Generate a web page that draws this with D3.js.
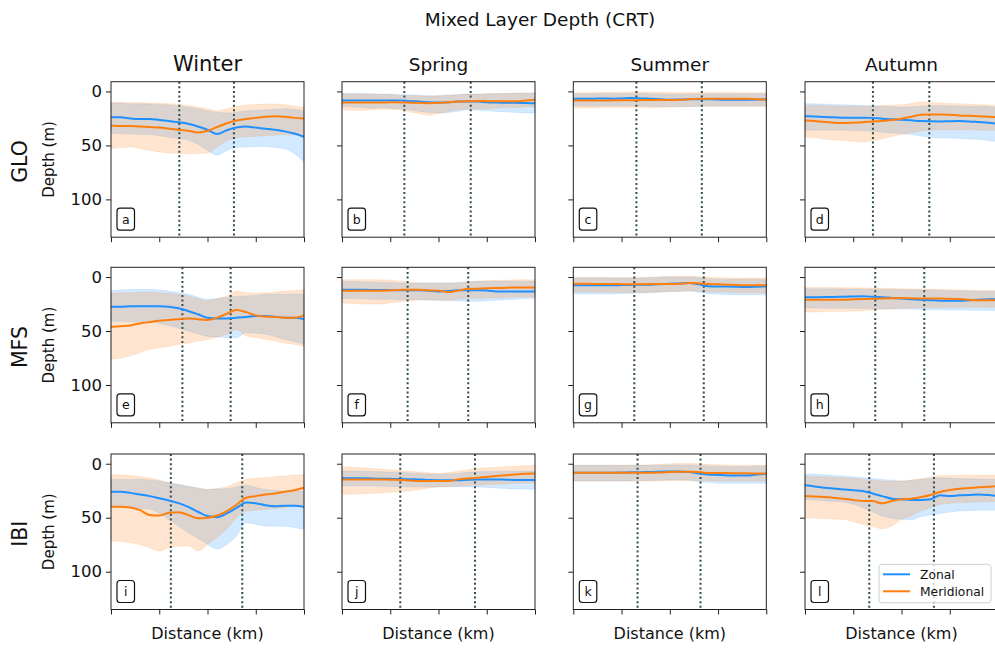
<!DOCTYPE html>
<html>
<head>
<meta charset="utf-8">
<script src="https://cdn.jsdelivr.net/npm/d3@7"></script>
<style>
  body { margin: 0; background: #fff; }
  text { font-family: "DejaVu Sans", sans-serif; fill: #111; }
</style>
</head>
<body>
<svg id="canvas" width="995" height="651"></svg>
<script>
// distance along section (percent of transect length)
const dist = [0, 5, 10, 15, 20, 25, 30, 35, 40, 45, 50, 55, 60, 65, 70, 75, 80, 85, 90, 95, 100];

const seasons = ["Winter", "Spring", "Summer", "Autumn"];
const models = ["GLO", "MFS", "IBI"];
const letters = ["a", "b", "c", "d", "e", "f", "g", "h", "i", "j", "k", "l"];
const yTicks = [0, 50, 100];
const xTicks = [0, 25, 50, 75, 100];

// front / boundary positions (dotted lines) per panel, same order as letters
const fronts = [
  [35.4, 63.7], [32.3, 66.7], [32.7, 66.6], [35.2, 64.4],
  [37.0, 62.0], [34.0, 65.4], [31.6, 67.6], [36.4, 61.8],
  [31.0, 68.0], [30.2, 68.9], [33.3, 65.9], [33.3, 66.8]
];

// ---- GLO ----
const aZonal = [24, 24, 25, 25.5, 25.5, 26.5, 27.5, 28.5, 30, 32.5, 35.5, 39.5, 36, 33.5, 32.5, 33.5, 34.5, 35.5, 37, 39, 42];
const aZonalTop = [11, 11, 11.5, 11.5, 11.7, 12, 12.5, 13.5, 14.7, 16, 17.8, 19.3, 20, 19.3, 18, 17.5, 17, 16.5, 16, 16.5, 18];
const aZonalBot = [39, 39, 39.5, 40, 40, 41, 42.5, 43.5, 45, 49, 54.6, 59, 54.6, 52, 51.5, 51, 51, 52, 53, 57.7, 65];
const aMerid = [31.5, 32, 32, 32.5, 33, 33.5, 34.5, 35.5, 36.5, 38, 36.5, 33, 29.5, 27, 25.5, 24.5, 23.5, 23, 23.5, 24.5, 25];
const aMeridTop = [10, 10, 10.5, 10.5, 10.7, 11, 11.5, 12, 13, 14.5, 16, 17.8, 16, 14, 12.6, 12, 11.7, 11.7, 12.3, 13.5, 14.7];
const aMeridBot = [53, 52, 51.5, 53, 54.6, 56, 57, 57.5, 57.7, 57.5, 57, 51.5, 45.4, 43, 42, 41.5, 41, 40.5, 40, 40.5, 41];

const bZonal = [8.4, 8.4, 8.4, 8.5, 8.4, 8.5, 8.4, 9, 9.4, 10, 10.3, 10, 9.4, 9.4, 9.4, 10, 10.3, 10.5, 10.6, 10.8, 10.9];
const bZonalTop = [1.6, 2, 2, 2.2, 2.5, 2.5, 3, 3, 3.5, 4, 4, 3.5, 3, 2.5, 2.5, 2.2, 2, 2, 1.8, 1.6, 1.6];
const bZonalBot = [14, 14.5, 15, 15.5, 15, 15.5, 16, 17, 18.5, 19.5, 20, 19.5, 18.5, 17, 17.5, 18, 18.5, 19, 19.5, 20, 20];
const bMerid = [10.3, 10.3, 10.3, 10.3, 10.3, 10, 10.2, 10.4, 10.5, 10.9, 10.6, 10, 9.4, 9, 8.8, 9, 9.2, 9.2, 9.2, 8.5, 7.8];
const bMeridTop = [2.5, 2.5, 2.5, 2.5, 2.8, 3, 3.5, 4, 4, 4.5, 4, 3.5, 3, 2.5, 2.5, 2.2, 2, 2, 1.5, 1.5, 1.2];
const bMeridBot = [17, 17.5, 17.5, 17, 16.5, 16.5, 17, 19, 20.5, 22, 20.5, 18.5, 17, 16.5, 16, 16, 15.5, 15, 15, 14.5, 14.5];

const cZonal = [6.8, 6.8, 6.8, 6.5, 6.8, 6.5, 6.2, 6.5, 6.8, 7.2, 7.7, 7.5, 7.3, 7.3, 7.3, 7.5, 7.8, 7.8, 7.8, 7.5, 7.3];
const cZonalTop = [2.2, 2.2, 2.2, 2, 2, 2, 2, 2, 2.2, 2.2, 2.5, 2.5, 2.5, 2.2, 2.2, 2.2, 2.2, 2.2, 2.2, 2.2, 2.2];
const cZonalBot = [13.6, 13.6, 13.6, 13.5, 13.5, 13.5, 13.5, 13.6, 13.8, 14, 14, 14, 14, 13.8, 13.6, 13.6, 13.6, 13.6, 13.6, 13.6, 13.6];
const cMerid = [8.3, 8.3, 8.3, 8.3, 8.3, 8.2, 8.2, 8, 8, 8, 8, 7.8, 7.3, 6.8, 6.8, 6.8, 6.8, 6.8, 6.8, 7.2, 7.5];
const cMeridTop = [1.2, 1.2, 1.2, 1, 1, 0.8, 0.5, 0.5, 0.5, 0.5, 0.8, 1, 1, 1, 1, 1, 1, 1.2, 1.2, 1.2, 1.2];
const cMeridBot = [15.4, 15.4, 15.4, 15.2, 15, 15, 15, 15, 15, 14.8, 14.5, 14.5, 14, 14, 13.8, 13.8, 13.8, 13.8, 13.8, 13.8, 13.8];

const dZonal = [23, 23.3, 23.7, 24, 24.4, 24.4, 24.4, 24.5, 25.3, 25.8, 26.2, 26.8, 27.5, 27.7, 27.8, 27.6, 27.5, 27.8, 28.4, 29, 29.9];
const dZonalTop = [11.4, 11.5, 11.8, 12, 12.3, 12.6, 13, 13.3, 13.8, 14.2, 14.5, 14.2, 13.8, 13.3, 13, 13.3, 13.5, 13.8, 13.8, 14, 14.5];
const dZonalBot = [36, 36, 36, 36, 36, 36.2, 36.5, 37, 37.8, 38.5, 39, 40, 41.2, 42.6, 43, 43.2, 43.5, 44, 44.4, 45.5, 46.6];
const dMerid = [26.9, 27.5, 28.4, 29, 29.3, 29, 28.5, 27.8, 27.5, 26.5, 25.3, 23.5, 21.6, 21.3, 21.3, 21.6, 22.2, 22.6, 23, 23.4, 23.8];
const dMeridTop = [13, 13, 13.2, 13.4, 13.6, 13.8, 13.9, 13.5, 13, 12.6, 12.3, 11.2, 9.9, 10.2, 10.8, 11.1, 11.4, 11.8, 12.2, 12.6, 13];
const dMeridBot = [42.3, 43, 44, 44.8, 45.4, 46.2, 46.9, 45.5, 43.8, 41.8, 39.8, 38.2, 36.7, 36, 35.5, 35.5, 35.5, 35.6, 35.8, 36, 36];

// ---- MFS ----
const eZonal = [27.5, 27.5, 27, 27, 27, 27, 27.5, 29, 31.5, 34.5, 37.7, 38.3, 38.3, 37.7, 37, 36, 36, 36.7, 37.7, 37.7, 39];
const eZonalTop = [13, 12, 11.5, 11.4, 11.4, 12, 13, 14.5, 16, 18.5, 20.7, 20, 19, 18, 17.6, 17, 16, 16, 16, 16, 16];
const eZonalBot = [40.7, 41, 41.5, 42, 42, 43, 45, 47.5, 50, 52.5, 55, 55.5, 56, 56, 51.5, 52, 53, 55, 57.7, 60, 62];
const eMerid = [46, 45.5, 44.8, 43, 41.7, 40.5, 39.8, 39, 38.3, 39, 39.8, 37.7, 34, 30.5, 32.5, 35.5, 36.7, 37, 37.7, 37.7, 35.5];
const eMeridTop = [15, 14.5, 14.5, 14, 14, 14.5, 15, 16, 17.6, 20, 22, 20, 17.6, 13, 14.5, 15, 14.5, 14, 13, 12.5, 12];
const eMeridBot = [76, 75, 73, 70, 67, 65.5, 64, 62.5, 61, 59.5, 58, 55.5, 53, 48.5, 54.6, 56, 57.7, 59, 61, 62.5, 64];

const fZonal = [11.7, 11.7, 11.8, 12, 12, 12.2, 12.3, 12.3, 12.3, 12.8, 13.3, 13, 12.3, 12.3, 12.3, 12.5, 13.3, 13.3, 13.3, 13.3, 13.3];
const fZonalTop = [4, 4, 4.5, 4.5, 5, 5, 5.5, 5.5, 5.5, 5.5, 5.5, 5.5, 5, 4.5, 4, 4, 4, 4, 4, 4, 4];
const fZonalBot = [20, 20, 20, 20.5, 20.5, 20.5, 21, 21, 21, 21.5, 21.5, 22, 22, 22.5, 22.5, 22, 21.5, 21, 20.5, 20, 20];
const fMerid = [12.6, 12.6, 12.8, 12.6, 12.6, 12.3, 12, 11.7, 11.7, 12.5, 12.6, 13.9, 12.6, 11.1, 10.8, 10.5, 10.2, 10, 9.6, 9.6, 9.6];
const fMeridTop = [2.5, 2.5, 2.5, 2.5, 2.5, 3, 4, 5, 5.5, 5.5, 5.5, 5.5, 5.5, 4.5, 4, 3.5, 3, 3, 2.5, 2.5, 2.5];
const fMeridBot = [24, 24.5, 25, 25, 25, 24, 23, 22, 21, 21, 21.5, 21.5, 20.5, 20, 20, 19.5, 19.4, 19, 18.5, 18.5, 18.5];

const gZonal = [7.7, 7.7, 7.7, 7.7, 7.7, 7.5, 7.3, 7.2, 7.1, 6.6, 6.2, 5.9, 5.6, 6.8, 8.6, 8.8, 8.8, 9, 9.3, 9, 8.6];
const gZonalTop = [1, 1, 1, 1, 1, 1, 1, 0.8, 0.5, 0.2, 0, 0, 0, 0.5, 1.5, 2, 2, 2, 2.2, 2.2, 2.2];
const gZonalBot = [15.7, 15.7, 15.7, 15.5, 15.5, 15.3, 15, 14.8, 14.5, 14, 13.5, 13.2, 13, 14, 15.5, 16, 16.3, 16.5, 16.5, 16.5, 16.5];
const gMerid = [6.2, 6.2, 6.4, 6.5, 6.5, 6.6, 6.7, 6.7, 6.5, 6.4, 6.4, 6.2, 5.6, 5.8, 6.5, 6.8, 7.1, 7.4, 7.7, 7.7, 7.7];
const gMeridTop = [0.3, 0.3, 0.3, 0.3, 0.5, 0.5, 0.5, 0.3, 0, -0.3, -0.5, -0.5, -0.6, -0.3, 0.3, 0.5, 0.8, 1, 1, 1, 1];
const gMeridBot = [13.9, 13.9, 14, 14, 14.2, 14.3, 14.3, 14.3, 14, 13.8, 13.5, 13.3, 13, 13.2, 13.8, 14, 14.2, 14.5, 14.5, 14.5, 14.5];

const hZonal = [18.8, 18.8, 18.6, 18.4, 18.2, 18, 17.9, 18.3, 18.8, 19.4, 20, 20.5, 21, 21.4, 21.9, 21.9, 21.9, 21.5, 21, 20.7, 20.4];
const hZonalTop = [10.8, 10.8, 10.9, 11, 11.1, 11.2, 11.3, 11.4, 11.5, 11.6, 11.7, 11.8, 12, 12.2, 12.4, 12.6, 12.8, 13, 13.1, 13.2, 13.3];
const hZonalBot = [28.7, 28.8, 28.9, 29, 29, 29.1, 29.2, 29.3, 29.4, 29.5, 29.6, 29.8, 30, 30.2, 30.4, 30.5, 30.6, 30.7, 30.8, 30.9, 31];
const hMerid = [21, 21, 21, 21, 21, 20.7, 20.4, 20.2, 20, 19.7, 19.4, 19.7, 20, 20, 20, 20.2, 20.4, 21, 21.6, 21.6, 21.6];
const hMeridTop = [9.6, 9.6, 9.7, 9.8, 9.9, 10, 10.1, 10.2, 10.4, 10.6, 10.8, 11, 11.2, 11.4, 11.6, 11.8, 12, 12.2, 12.4, 12.5, 12.6];
const hMeridBot = [32.4, 32.3, 32.2, 32, 31.8, 31.5, 31.2, 30.6, 30, 29.5, 29, 28.8, 28.6, 28.4, 28.3, 28.2, 28.1, 28, 28, 28, 28];

// ---- IBI ----
const iZonal = [26, 26, 27, 28.5, 30, 32, 34, 36.5, 40, 44.5, 48.5, 49.5, 46, 41, 36, 36.5, 38.5, 39.5, 39, 39, 39.8];
const iZonalTop = [14.5, 14.5, 14.5, 14.5, 15, 16, 17.6, 19, 20.7, 22.5, 23.8, 23.5, 23, 21.5, 20, 22, 23.8, 24.5, 25.3, 25.3, 25.3];
const iZonalBot = [40, 40, 41, 41.5, 42, 46, 51.5, 58, 64, 69, 74.7, 79, 74.7, 67, 54.6, 56, 57.7, 58, 58, 59, 60.8];
const iMerid = [39.8, 39.8, 40.5, 43, 47.5, 48, 45.5, 45, 47.5, 50.5, 50, 48, 44, 38, 31.5, 30, 28.5, 27.5, 26, 24.5, 22.2];
const iMeridTop = [10, 10.5, 11, 12, 13, 15, 17.6, 19.5, 21.3, 22.5, 23.8, 23, 21.3, 17.6, 14.5, 13.5, 13, 12, 11.4, 10.5, 10];
const iMeridBot = [71.6, 72, 73, 75, 77.8, 80.9, 77.8, 76.5, 76, 80.9, 74.7, 68, 60.8, 50, 43.8, 43, 42.3, 41.5, 40.7, 39, 37.7];

const jZonal = [13.3, 13.4, 13.5, 13.7, 13.9, 14, 14.2, 14.4, 14.5, 15, 15.4, 15.4, 15.4, 14.9, 14.5, 14.5, 14.5, 14.8, 15.1, 15.1, 15.1];
const jZonalTop = [6.8, 6.8, 7, 7.2, 7.4, 7.7, 8, 8.5, 9, 9.5, 9.9, 9.6, 9, 8, 7.5, 7.3, 7.1, 7, 6.9, 6.8, 6.8];
const jZonalBot = [20.7, 20.7, 20.7, 20.7, 20.8, 21, 21.2, 21.4, 21.5, 21.5, 21.5, 21.5, 21.5, 21.5, 21.5, 22, 22.5, 23, 23.3, 23.5, 23.8];
const jMerid = [14.5, 14.5, 14.5, 14.5, 14.5, 14.8, 15.1, 15.5, 16, 16, 16, 16, 14.5, 13.7, 13, 12.2, 11.4, 10.6, 9.9, 9.4, 9];
const jMeridTop = [2.8, 3.2, 3.7, 4.3, 5, 5.6, 6.3, 7, 7.7, 8.4, 9, 8.2, 7, 5.5, 4.5, 3.8, 3.2, 2.7, 2.2, 1.8, 1.5];
const jMeridBot = [28.4, 28.2, 27.8, 27.5, 27, 26.4, 25.8, 25, 23.8, 22.6, 21.5, 21, 20.5, 20.2, 20, 19.5, 19, 18.6, 18.2, 17.9, 17.6];

const kZonal = [8.3, 8.3, 8.3, 8.3, 8.3, 8.2, 8, 7.8, 7.7, 7.4, 7.1, 7.3, 7.6, 9, 9.9, 10.4, 10.8, 10.8, 10.8, 10, 9.3];
const kZonalTop = [1.5, 1.5, 1.5, 1.5, 1.5, 1.5, 1.5, 1.5, 1.5, 1.3, 1.2, 1.2, 1.2, 1.6, 2, 2.3, 2.5, 2.5, 2.5, 2.3, 2];
const kZonalBot = [16, 16, 16, 16, 16, 16, 15.8, 15.6, 15.5, 15.3, 15, 15, 15.3, 16.5, 17.5, 18, 18, 18, 18, 18, 18];
const kMerid = [8.3, 8.3, 8.3, 8.3, 8.3, 8.3, 8.3, 8.3, 8.3, 8.2, 7.7, 7.5, 7.4, 7.7, 8.6, 8.6, 8.6, 8.9, 8.9, 9, 9];
const kMeridTop = [1.5, 1.5, 1.5, 1.5, 1.5, 1.5, 1.5, 1.3, 1, 0.5, 0, -0.2, -0.3, 0, 0.5, 1, 1.2, 1.5, 1.5, 1.5, 1.5];
const kMeridBot = [16, 16, 16, 16, 16, 16, 16, 16, 16, 15.8, 15.6, 15.5, 15.5, 15.6, 15.8, 16, 16, 16, 16, 16, 16];

const lZonal = [20, 21, 22.2, 23, 23.8, 24.5, 25.3, 27.5, 30, 32.4, 33, 33.6, 33.6, 33, 29.3, 30, 29.3, 29, 28.4, 29, 30];
const lZonalTop = [9.3, 9.8, 10.3, 10.8, 11.4, 12, 12.8, 13.6, 14.5, 15.2, 16, 15.5, 14.5, 13.8, 13, 13.3, 13.9, 14, 14.2, 14.3, 14.5];
const lZonalBot = [33, 33.5, 34.2, 35, 35.5, 37.5, 40.7, 44.5, 48.5, 50.5, 51.5, 52, 49, 47.5, 46, 44.8, 43.8, 43.5, 43, 43, 43];
const lMerid = [30, 30.4, 30.9, 31.6, 32.4, 33.5, 34.6, 34.6, 36.7, 34.6, 33, 32.4, 30.9, 29, 26.2, 24.4, 23.1, 22.5, 21.9, 21.3, 20.7];
const lMeridTop = [11.4, 11.8, 12.2, 12.6, 13, 13.7, 14.4, 15.2, 16, 16, 16, 15, 14, 12.4, 10.8, 10.8, 10.8, 10.7, 10.6, 10.5, 10.5];
const lMeridBot = [50, 50.4, 50.8, 51.2, 51.5, 53.8, 56.2, 58.2, 60.2, 57.7, 51.5, 48.5, 43.8, 40.7, 37.7, 36.8, 36, 35.8, 35.5, 35, 34.6];

const panelSeries = [
  [aZonal, aZonalTop, aZonalBot, aMerid, aMeridTop, aMeridBot],
  [bZonal, bZonalTop, bZonalBot, bMerid, bMeridTop, bMeridBot],
  [cZonal, cZonalTop, cZonalBot, cMerid, cMeridTop, cMeridBot],
  [dZonal, dZonalTop, dZonalBot, dMerid, dMeridTop, dMeridBot],
  [eZonal, eZonalTop, eZonalBot, eMerid, eMeridTop, eMeridBot],
  [fZonal, fZonalTop, fZonalBot, fMerid, fMeridTop, fMeridBot],
  [gZonal, gZonalTop, gZonalBot, gMerid, gMeridTop, gMeridBot],
  [hZonal, hZonalTop, hZonalBot, hMerid, hMeridTop, hMeridBot],
  [iZonal, iZonalTop, iZonalBot, iMerid, iMeridTop, iMeridBot],
  [jZonal, jZonalTop, jZonalBot, jMerid, jMeridTop, jMeridBot],
  [kZonal, kZonalTop, kZonalBot, kMerid, kMeridTop, kMeridBot],
  [lZonal, lZonalTop, lZonalBot, lMerid, lMeridTop, lMeridBot]
];

const zonalColor = "#1e90ff";
const meridColor = "#ff7f0e";
const frontColor = "#2f4f4f";

const svg = d3.select("#canvas");

const colLeft = [111, 342, 573.3, 805];
const rowTop = [81.7, 267.3, 454];
const panelW = 193;
const panelH = 155.5;

svg.append("text")
  .attr("x", 540)
  .attr("y", 26)
  .attr("text-anchor", "middle")
  .style("font-size", "18.5px")
  .text("Mixed Layer Depth (CRT)");

const drawPanel = (row, col) => {
  const idx = row * 4 + col;
  const [zMean, zTop, zBot, mMean, mTop, mBot] = panelSeries[idx];
  const left = colLeft[col];
  const top = rowTop[row];

  const x = d3.scaleLinear().domain([0, 100]).range([left, left + panelW]);
  const y = d3.scaleLinear().domain([-9, 135]).range([top, top + panelH]);

  const g = svg.append("g");

  const band = (lo, hi) =>
    d3.area()
      .x((d, i) => x(dist[i]))
      .y0((d, i) => y(lo[i]))
      .y1((d, i) => y(hi[i]))
      .curve(d3.curveMonotoneX)(dist);

  const line = (vals) =>
    d3.line()
      .x((d, i) => x(dist[i]))
      .y((d, i) => y(vals[i]))
      .curve(d3.curveMonotoneX)(dist);

  g.append("path")
    .attr("d", band(zTop, zBot))
    .attr("fill", zonalColor)
    .attr("fill-opacity", 0.2)
    .attr("stroke", zonalColor)
    .attr("stroke-opacity", 0.15)
    .attr("stroke-width", 0.8);

  g.append("path")
    .attr("d", band(mTop, mBot))
    .attr("fill", meridColor)
    .attr("fill-opacity", 0.2)
    .attr("stroke", meridColor)
    .attr("stroke-opacity", 0.15)
    .attr("stroke-width", 0.8);

  fronts[idx].forEach((f) => {
    g.append("line")
      .attr("x1", x(f))
      .attr("x2", x(f))
      .attr("y1", top)
      .attr("y2", top + panelH)
      .attr("stroke", frontColor)
      .attr("stroke-width", 2)
      .attr("stroke-dasharray", "2,2.6");
  });

  g.append("path")
    .attr("d", line(zMean))
    .attr("fill", "none")
    .attr("stroke", zonalColor)
    .attr("stroke-width", 2);

  g.append("path")
    .attr("d", line(mMean))
    .attr("fill", "none")
    .attr("stroke", meridColor)
    .attr("stroke-width", 2);

  // axes
  const yAxis = d3.axisLeft(y).tickValues(yTicks).tickSize(5).tickPadding(4);
  if (col > 0) yAxis.tickFormat("");
  const ya = g.append("g").attr("transform", `translate(${left},0)`).call(yAxis);
  const xa = g.append("g")
    .attr("transform", `translate(0,${top + panelH})`)
    .call(d3.axisBottom(x).tickValues(xTicks).tickSize(5).tickFormat(""));
  [ya, xa].forEach((a) => {
    a.select(".domain").remove();
    a.selectAll("line").attr("stroke", "#222").attr("stroke-width", 1);
    a.selectAll("text")
      .style("font-size", "16.5px")
      .style("font-family", "DejaVu Sans")
      .attr("fill", "#222");
  });

  g.append("rect")
    .attr("x", left)
    .attr("y", top)
    .attr("width", panelW)
    .attr("height", panelH)
    .attr("fill", "none")
    .attr("stroke", "#222")
    .attr("stroke-width", 1);

  // panel letter box
  g.append("rect")
    .attr("x", left + 6)
    .attr("y", top + panelH - 29)
    .attr("width", 17.5)
    .attr("height", 22)
    .attr("rx", 3)
    .attr("fill", "#fff")
    .attr("stroke", "#111")
    .attr("stroke-width", 1.2);
  g.append("text")
    .attr("x", left + 14.75)
    .attr("y", top + panelH - 13.5)
    .attr("text-anchor", "middle")
    .style("font-size", "12.5px")
    .text(letters[idx]);

  if (row === 0) {
    g.append("text")
      .attr("x", left + panelW / 2)
      .attr("y", 71)
      .attr("text-anchor", "middle")
      .style("font-size", col === 0 ? "21px" : "18.5px")
      .text(seasons[col]);
  }
  if (col === 0) {
    const cy = top + panelH / 2;
    g.append("text")
      .attr("transform", `translate(27,${cy + 2}) rotate(-90)`)
      .attr("text-anchor", "middle")
      .style("font-size", "20.5px")
      .text(models[row]);
    g.append("text")
      .attr("transform", `translate(54,${cy}) rotate(-90)`)
      .attr("text-anchor", "middle")
      .style("font-size", "15px")
      .text("Depth (m)");
  }
  if (row === 2) {
    g.append("text")
      .attr("x", left + panelW / 2)
      .attr("y", 639)
      .attr("text-anchor", "middle")
      .style("font-size", "16px")
      .text("Distance (km)");
  }
};

models.forEach((m, r) => seasons.forEach((s, c) => drawPanel(r, c)));

// legend in last panel
const legend = svg.append("g").attr("transform", "translate(879,564.3)");
legend.append("rect")
  .attr("width", 112)
  .attr("height", 38.5)
  .attr("rx", 3)
  .attr("fill", "#fff")
  .attr("fill-opacity", 0.8)
  .attr("stroke", "#d0d0d0");
[["Zonal", zonalColor], ["Meridional", meridColor]].forEach(([name, color], i) => {
  const ly = 10 + i * 17;
  legend.append("line")
    .attr("x1", 4).attr("x2", 31)
    .attr("y1", ly).attr("y2", ly)
    .attr("stroke", color)
    .attr("stroke-width", 2);
  legend.append("text")
    .attr("x", 41)
    .attr("y", ly + 4.3)
    .style("font-size", "12.3px")
    .text(name);
});
</script>
</body>
</html>
